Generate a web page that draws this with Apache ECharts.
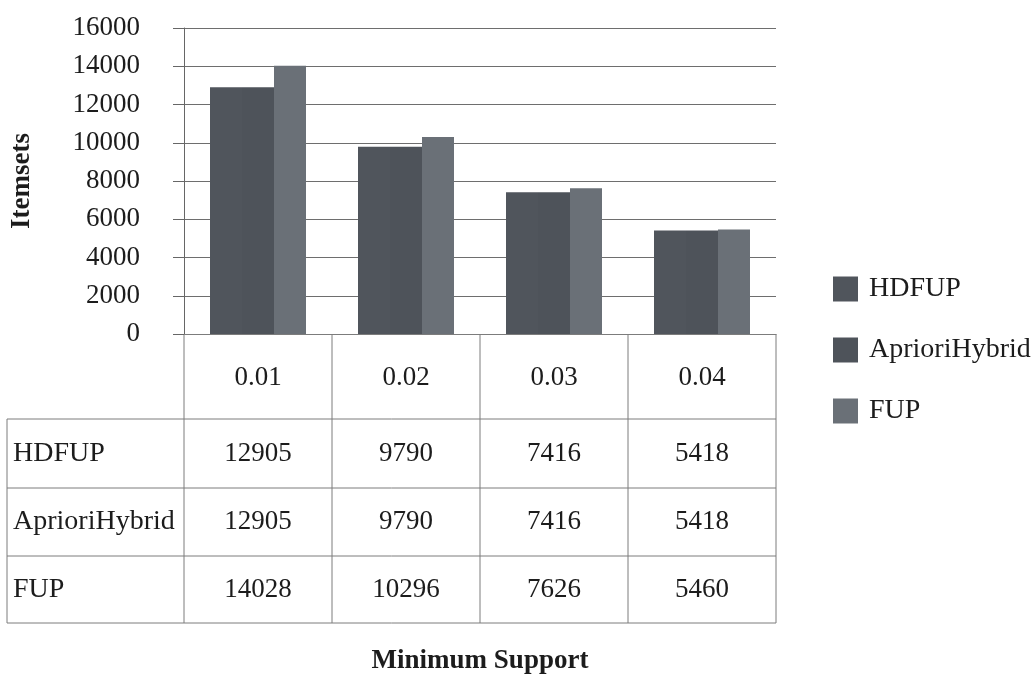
<!DOCTYPE html>
<html>
<head>
<meta charset="utf-8">
<script src="https://cdn.jsdelivr.net/npm/echarts@6/dist/echarts.min.js"></script>
<style>
html,body{margin:0;padding:0;background:#fff;}
#c{width:1032px;height:674px;}
</style>
</head>
<body>
<div id="c"></div>
<script>
const categories = ['0.01', '0.02', '0.03', '0.04'];
const seriesNames = ['HDFUP', 'AprioriHybrid', 'FUP'];
const hdfup = [12905, 9790, 7416, 5418];
const aprioriHybrid = [12905, 9790, 7416, 5418];
const fup = [14028, 10296, 7626, 5460];
const yMin = 0, yMax = 16000, yInterval = 2000;

const FONT = "'Liberation Serif', 'Times New Roman', serif";
const TXT = '#1c1c1c';
const colors = ['#50555c', '#4e535a', '#6a7077'];
const LINE = '#7c7c7c';

const G = {left: 184, top: 28, right: 776, bottom: 334};
const rowEdges = [334, 419, 488, 556, 623];
const tableLeft = 7;

const chart = echarts.init(document.getElementById('c'), null, {renderer: 'canvas'});
const seriesData = [hdfup, aprioriHybrid, fup];

chart.setOption({
  animation: false,
  backgroundColor: '#fff',
  textStyle: {fontFamily: FONT, color: TXT},
  grid: {left: G.left, top: G.top, width: G.right - G.left, height: G.bottom - G.top,
         containLabel: false, outerBoundsMode: 'none'},
  legend: {
    orient: 'vertical', left: 828, top: 270,
    itemWidth: 25, itemHeight: 25, itemGap: 33,
    icon: 'rect',
    data: seriesNames,
    textStyle: {fontFamily: FONT, fontSize: 28, color: TXT, padding: [0, 0, 0, 6]}
  },
  xAxis: {
    type: 'category', data: categories,
    axisLine: {show: true, lineStyle: {color: LINE, width: 1}},
    axisTick: {show: false},
    axisLabel: {fontFamily: FONT, fontSize: 27, color: TXT, margin: 30},
    name: 'Minimum Support', nameLocation: 'middle', nameGap: 314,
    nameTextStyle: {fontFamily: FONT, fontSize: 27, fontWeight: 'bold', color: TXT}
  },
  yAxis: {
    type: 'value', min: yMin, max: yMax, interval: yInterval,
    axisLine: {show: true, lineStyle: {color: '#666', width: 1}},
    axisTick: {show: true, length: 11, lineStyle: {color: '#666'}},
    splitLine: {show: true, lineStyle: {color: '#6e6e6e', width: 1}},
    axisLabel: {fontFamily: FONT, fontSize: 27, color: TXT, margin: 44, formatter: v => String(v)},
    name: 'Itemsets', nameLocation: 'middle', nameGap: 148, nameRotate: 90,
    nameTextStyle: {fontFamily: FONT, fontSize: 27, fontWeight: 'bold', color: TXT}
  },
  series: seriesNames.map((n, i) => ({
    name: n, type: 'bar', data: seriesData[i],
    barWidth: 32, barGap: '0%', barCategoryGap: '35%',
    itemStyle: {color: colors[i]}
  }))
});

// Build data table under the axis
const elements = [];
const centers = categories.map(c => chart.convertToPixel({xAxisIndex: 0}, c));
const band = (G.right - G.left) / categories.length;
const vx = [G.left];
for (let i = 0; i < categories.length; i++) vx.push(G.left + band * (i + 1));

function line(x1, y1, x2, y2) {
  elements.push({type: 'line', shape: {x1, y1, x2, y2}, style: {stroke: LINE, lineWidth: 1}, silent: true});
}
for (let r = 1; r < rowEdges.length; r++) line(tableLeft, rowEdges[r], G.right, rowEdges[r]);
vx.forEach(x => line(x, rowEdges[0], x, rowEdges[rowEdges.length - 1]));
line(tableLeft, rowEdges[1], tableLeft, rowEdges[rowEdges.length - 1]);

seriesNames.forEach((n, r) => {
  const yc = (rowEdges[r + 1] + rowEdges[r + 2]) / 2;
  elements.push({type: 'text', x: 13, y: yc, silent: true,
    style: {text: n, fontFamily: FONT, fontSize: 28, fill: TXT, align: 'left', verticalAlign: 'middle'}});
  seriesData[r].forEach((v, i) => {
    elements.push({type: 'text', x: centers[i], y: yc, silent: true,
      style: {text: String(v), fontFamily: FONT, fontSize: 27, fill: TXT, align: 'center', verticalAlign: 'middle'}});
  });
});

chart.setOption({graphic: {elements}});
</script>
</body>
</html>
